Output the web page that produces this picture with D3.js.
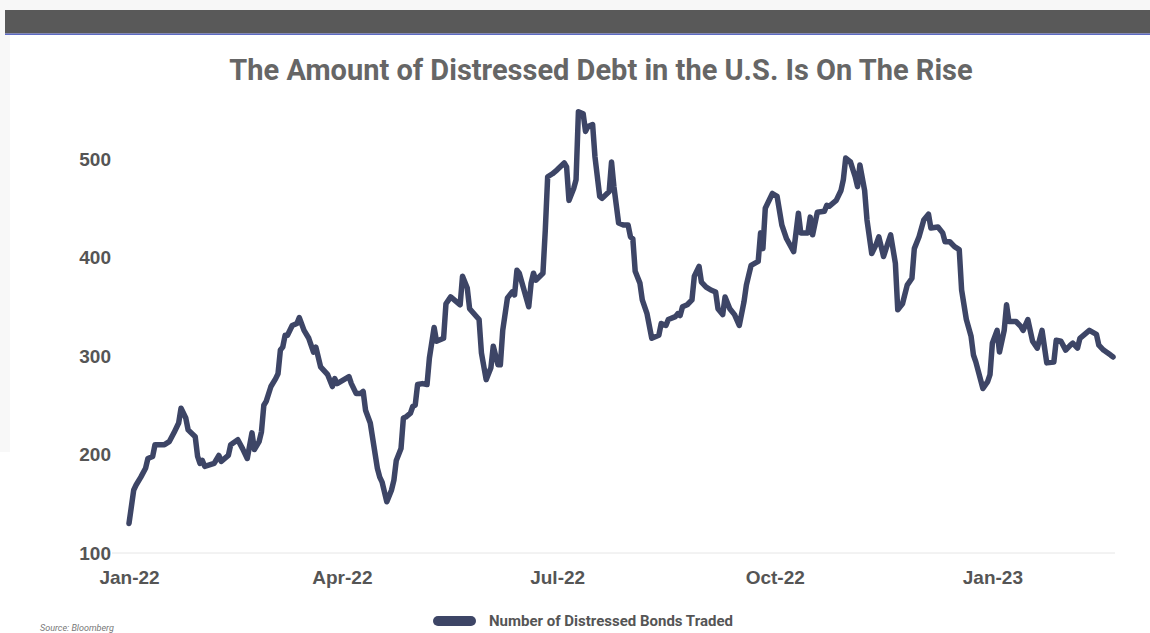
<!DOCTYPE html>
<html>
<head>
<meta charset="utf-8">
<script src="https://cdn.jsdelivr.net/npm/d3@7"></script>
<style>
  html, body { margin: 0; padding: 0; background: #fff; }
  #chart { width: 1150px; height: 633px; }
  svg { display: block; font-family: Roboto, "Open Sans", sans-serif; }
  .axis text { font-weight: 700; font-size: 19px; fill: #555; }
  .axis path, .axis line { display: none; }
</style>
</head>
<body>
<div id="chart"><svg></svg></div>
<script>
// days after 2022-01-01
var days = [0, 2, 3, 5, 7, 8, 10, 11, 15, 17, 19, 21, 22, 24, 25, 28, 29, 30, 31, 32,
  36, 38, 39, 42, 43, 46, 48, 50, 52, 53, 55, 56, 57, 58, 60, 62, 63, 64, 65, 66,
  67, 69, 71, 72, 74, 76, 78, 79, 81, 84, 86, 87, 88, 93, 94, 96, 98, 99, 100, 102,
  105, 106, 107, 109, 111, 112, 113, 115, 116, 117, 119, 120, 121, 122, 124, 126, 127, 129, 130, 133,
  134, 136, 140, 141, 143, 144, 148, 149, 151, 153, 154, 156, 157, 158, 160, 162, 163, 164, 165, 169,
  170, 171, 172, 175, 176, 177, 179, 181, 184, 185, 186, 188, 189, 190, 192, 193, 194, 196, 197, 199,
  200, 203, 204, 205, 207, 209, 211, 212, 213, 214, 216, 217, 219, 221, 224, 225, 227, 228, 231, 232,
  233, 234, 236, 238, 239, 241, 242, 244, 246, 248, 249, 251, 252, 254, 256, 258, 260, 261, 262, 263,
  266, 267, 268, 269, 272, 274, 276, 278, 281, 283, 284, 287, 288, 289, 291, 294, 295, 296, 299, 301,
  302, 303, 305, 307, 308, 309, 311, 312, 314, 316, 317, 319, 321, 322, 324, 325, 327, 329, 331, 332,
  334, 336, 338, 339, 342, 344, 345, 347, 349, 351, 352, 354, 356, 357, 358, 361, 363, 364, 365, 367,
  368, 370, 371, 372, 375, 377, 378, 380, 382, 384, 386, 388, 391, 392, 394, 396, 398, 399, 401, 402,
  406, 409, 410, 412, 415, 416];

var bonds = [130, 164, 169, 177, 186, 196, 198, 210, 210, 213, 222, 232, 247, 237, 225, 218, 198, 191, 194, 188,
  191, 199, 193, 199, 210, 215, 206, 196, 222, 205, 213, 223, 250, 254, 269, 277, 282, 306, 309, 321,
  321, 331, 333, 339, 326, 318, 304, 309, 289, 281, 269, 277, 272, 279, 272, 262, 262, 264, 245, 232,
  186, 177, 172, 152, 164, 174, 194, 206, 237, 238, 242, 249, 250, 271, 272, 271, 298, 329, 315, 318,
  353, 360, 352, 381, 369, 348, 337, 303, 276, 288, 310, 291, 291, 326, 359, 365, 362, 387, 384, 350,
  374, 384, 377, 384, 428, 482, 485, 489, 496, 492, 458, 470, 479, 548, 546, 528, 533, 535, 502, 462,
  460, 467, 497, 472, 435, 433, 433, 421, 419, 386, 374, 357, 343, 318, 321, 333, 331, 337, 340, 343,
  341, 350, 352, 357, 381, 391, 375, 370, 367, 365, 348, 342, 360, 348, 342, 331, 355, 372, 382, 392,
  396, 425, 409, 450, 465, 462, 433, 419, 406, 445, 425, 425, 441, 423, 446, 447, 453, 452, 458, 468,
  479, 501, 497, 482, 472, 494, 468, 438, 404, 414, 421, 401, 416, 423, 394, 347, 353, 372, 379, 409,
  421, 438, 444, 430, 431, 425, 416, 416, 411, 408, 367, 337, 320, 301, 294, 267, 274, 281, 313, 326,
  304, 326, 352, 335, 335, 330, 326, 337, 315, 308, 326, 293, 294, 316, 315, 306, 311, 313, 308, 318,
  326, 322, 311, 306, 301, 299];

var yTicks = [100, 200, 300, 400, 500];
var title = "The Amount of Distressed Debt in the U.S. Is On The Rise";
var seriesName = "Number of Distressed Bonds Traded";
var source = "Source: Bloomberg";

var build = function() {
  var W = 1150, H = 633;
  var start = new Date(2022, 0, 1);
  var ds = [];
  for (var i = 0, n = days.length; i < n; i++) {
    ds.push({ x: d3.timeDay.offset(start, days[i]), y: bonds[i] });
  }

  var xScale = d3.scaleTime().
    domain([start, d3.timeDay.offset(start, 416)]).
    range([129, 1113]);

  var yScale = d3.scaleLinear().
    domain([100, 500]).
    range([553, 159]);

  var svg = d3.select("#chart svg").
    attr("width", W).
    attr("height", H);

  // page chrome from the screenshot
  svg.append("rect").attr("x", 0).attr("y", 0).attr("width", W).attr("height", 10).attr("fill", "#f7f7f7");
  svg.append("rect").attr("x", 0).attr("y", 0).attr("width", 10).attr("height", 452).attr("fill", "#f8f8f8");
  svg.append("rect").attr("x", 5).attr("y", 10).attr("width", W - 5).attr("height", 23.5).attr("fill", "#595959");
  svg.append("rect").attr("x", 5).attr("y", 33.5).attr("width", W - 5).attr("height", 1.5).attr("fill", "#5d6bc4");

  svg.append("text").
    attr("x", 601).
    attr("y", 80).
    attr("text-anchor", "middle").
    attr("font-size", "29px").
    attr("font-weight", 700).
    attr("fill", "#666").
    text(title);

  // baseline only
  svg.append("line").
    attr("x1", 112).attr("x2", 1115).
    attr("y1", yScale(100)).attr("y2", yScale(100)).
    attr("stroke", "#e6e6e6").
    attr("stroke-width", 1);

  var yAxis = d3.axisLeft(yScale).
    tickValues(yTicks).
    tickSize(0).
    tickPadding(0).
    tickFormat(d3.format("d"));

  svg.append("g").
    attr("class", "y axis").
    attr("transform", "translate(111,0)").
    call(yAxis);

  var xAxis = d3.axisBottom(xScale).
    ticks(d3.timeMonth.every(3)).
    tickSize(0).
    tickPadding(0).
    tickFormat(d3.timeFormat("%b-%y"));

  var gX = svg.append("g").
    attr("class", "x axis").
    attr("transform", "translate(0,577)").
    call(xAxis);
  gX.selectAll("text").attr("dy", "0.35em");

  var line = d3.line().
    x(function(d) { return xScale(d.x); }).
    y(function(d) { return yScale(d.y); });

  svg.append("path").
    datum(ds).
    attr("fill", "none").
    attr("stroke", "#3d4566").
    attr("stroke-width", 5.5).
    attr("stroke-linejoin", "round").
    attr("stroke-linecap", "round").
    attr("d", line);

  // legend
  svg.append("rect").
    attr("x", 433).attr("y", 616).
    attr("width", 43).attr("height", 10).
    attr("rx", 5).
    attr("fill", "#3d4566");

  svg.append("text").
    attr("x", 489).
    attr("y", 621).
    attr("dy", "0.35em").
    attr("font-size", "15px").
    attr("font-weight", 700).
    attr("fill", "#555").
    text(seriesName);

  svg.append("text").
    attr("x", 40).
    attr("y", 631).
    attr("font-size", "9px").
    attr("font-style", "italic").
    attr("fill", "#777").
    text(source);
};

build();
</script>
</body>
</html>
